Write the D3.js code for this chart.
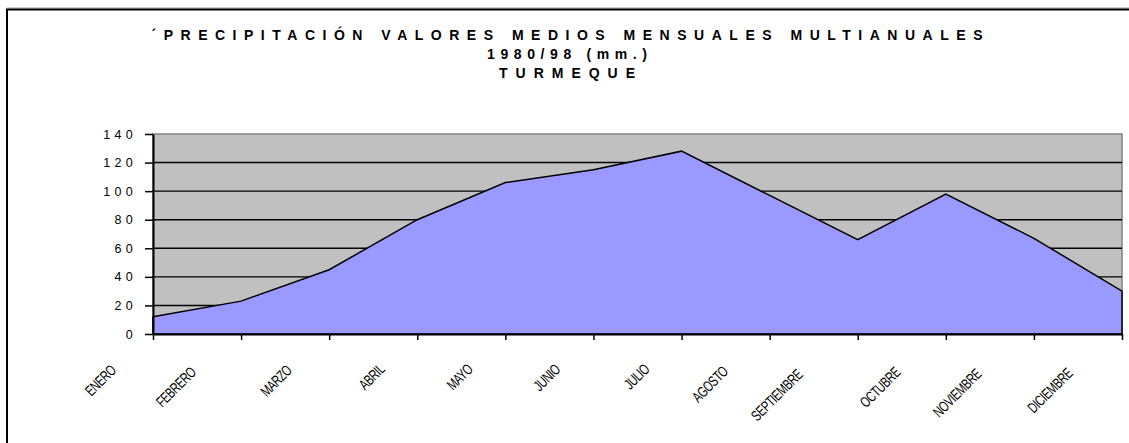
<!DOCTYPE html>
<html>
<head>
<meta charset="utf-8">
<script src="https://cdn.jsdelivr.net/npm/d3@7"></script>
<style>
  html, body { margin: 0; padding: 0; background: #fff; }
  svg { display: block; font-family: "Liberation Sans", Arial, sans-serif; }
</style>
</head>
<body>
<svg id="chart" width="1129" height="443"></svg>
<script>
const months = ["ENERO","FEBRERO","MARZO","ABRIL","MAYO","JUNIO","JULIO","AGOSTO","SEPTIEMBRE","OCTUBRE","NOVIEMBRE","DICIEMBRE"];
const precip = [12, 23, 45, 80, 106, 115, 128, 97, 66, 98, 67, 30];
const yTicks = [0, 20, 40, 60, 80, 100, 120, 140];
const titleLines = ["´PRECIPITACIÓN VALORES MEDIOS MENSUALES MULTIANUALES", "1980/98 (mm.)", "TURMEQUE"];

const svg = d3.select("#chart");
const W = 1129, H = 443;
const plot = { left: 153, right: 1122, top: 134, bottom: 334 };

// outer chart frame
svg.append("line").attr("x1", 7).attr("x2", W).attr("y1", 8).attr("y2", 8)
  .attr("stroke", "#999").attr("stroke-width", 1);
svg.append("rect").attr("x", 7).attr("y", 9.5).attr("width", W + 20).attr("height", H + 20)
  .attr("fill", "none").attr("stroke", "#000").attr("stroke-width", 2);

// titles
const titleY = [40, 59, 78];
const titleLen = [831, 160, 136];
titleLines.forEach((t, i) => {
  svg.append("text")
    .attr("x", 567).attr("y", titleY[i])
    .attr("text-anchor", "middle")
    .style("font-size", "14px").style("font-weight", "bold")
    .attr("textLength", titleLen[i]).attr("lengthAdjust", "spacing")
    .text(t);
});

const x = d3.scalePoint().domain(months).range([plot.left, plot.right]);
const y = d3.scaleLinear().domain([0, 140]).range([plot.bottom, plot.top]);

// plot background
svg.append("rect")
  .attr("x", plot.left).attr("y", plot.top)
  .attr("width", plot.right - plot.left).attr("height", plot.bottom - plot.top)
  .attr("fill", "#C0C0C0").attr("stroke", "#808080").attr("stroke-width", 1.5);

// grid lines
svg.append("g").selectAll("line")
  .data(yTicks.filter(v => v > 0 && v < 140))
  .join("line")
  .attr("x1", plot.left).attr("x2", plot.right)
  .attr("y1", d => y(d)).attr("y2", d => y(d))
  .attr("stroke", "#000").attr("stroke-width", 1.4);

// area
const area = d3.area()
  .x((d, i) => x(months[i]))
  .y0(y(0))
  .y1(d => y(d));
svg.append("path")
  .datum(precip)
  .attr("d", area)
  .attr("fill", "#9999FF")
  .attr("stroke", "#000")
  .attr("stroke-width", 1.5)
  .attr("stroke-linejoin", "miter");

// y axis
const yAxis = d3.axisLeft(y).tickValues(yTicks).tickSize(8).tickSizeOuter(0).tickPadding(0);
const gy = svg.append("g").attr("transform", `translate(${plot.left},0)`).call(yAxis);
gy.select(".domain").attr("stroke", "#000").attr("stroke-width", 2);
gy.selectAll(".tick line").attr("stroke", "#000").attr("stroke-width", 1.5);
gy.selectAll(".tick text")
  .attr("x", -16)
  .style("font-size", "12.5px")
  .style("font-family", "'Liberation Sans', Arial, sans-serif")
  .attr("letter-spacing", "4.3px")
  .attr("fill", "#000");

// x axis
const xAxis = d3.axisBottom(x).tickSize(6).tickSizeOuter(0).tickPadding(0);
const gx = svg.append("g").attr("transform", `translate(0,${plot.bottom})`).call(xAxis);
gx.select(".domain").attr("stroke", "#000").attr("stroke-width", 2);
gx.selectAll(".tick line").attr("stroke", "#000").attr("stroke-width", 1.5);
const sx = 0.72;
gx.selectAll(".tick text")
  .attr("text-anchor", "end")
  .style("font-size", "15px")
  .style("font-family", "'Liberation Sans', Arial, sans-serif")
  .attr("letter-spacing", "-0.6px")
  .attr("fill", "#000")
  .attr("dy", null)
  .attr("y", 0).attr("x", 0)
  .each(function() {
    const L = this.getComputedTextLength() * sx;
    const ox = -(14 + 0.625 * L);
    const oy = 32 + 0.15 * L;
    d3.select(this).attr("transform", `translate(${ox},${oy}) rotate(-45) scale(${sx},1)`);
  });
</script>
</body>
</html>
